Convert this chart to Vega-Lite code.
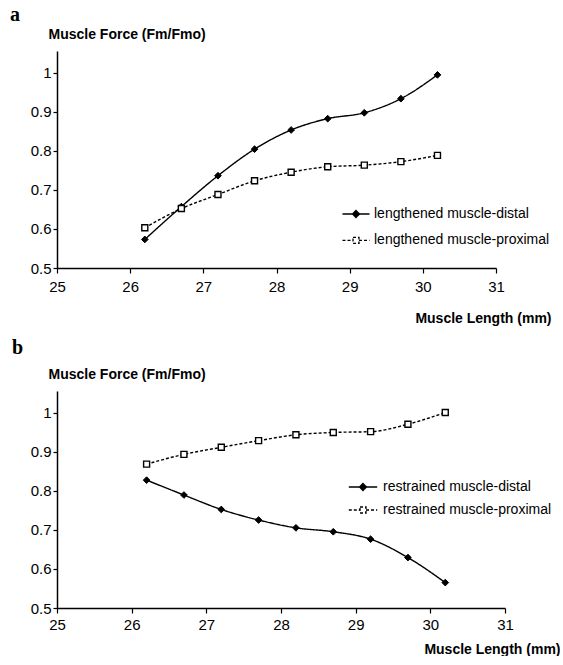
{
  "$schema": "https://vega.github.io/schema/vega-lite/v6.json",
  "background": "white",
  "padding": {"left": 10, "top": 5, "right": 0, "bottom": 0},
  "bounds": "flush",
  "spacing": 123,
  "resolve": {"scale": {"strokeDash": "independent"}, "legend": {"strokeDash": "independent"}},
  "config": {
    "font": "Liberation Sans",
    "view": {"stroke": null},
    "axis": {
      "grid": false,
      "domainColor": "#000",
      "domainWidth": 1.5,
      "tickColor": "#000",
      "tickWidth": 1.2,
      "tickSize": 5,
      "labelFont": "Liberation Sans",
      "labelFontSize": 15,
      "labelColor": "#000",
      "labelFlush": false,
      "titleFont": "Liberation Sans",
      "titleFontSize": 14,
      "titleFontWeight": "bold",
      "titleColor": "#000"
    },
    "legend": {
      "labelFont": "Liberation Sans",
      "labelFontSize": 14,
      "labelColor": "#000",
      "labelLimit": 400,
      "symbolSize": 400,
      "symbolStrokeWidth": 1.3,
      "symbolStrokeColor": "#000"
    }
  },
  "datasets": {
    "a": [
      {"length": 26.2, "force": 0.573, "series": "lengthened muscle-distal"},
      {"length": 26.7, "force": 0.657, "series": "lengthened muscle-distal"},
      {"length": 27.2, "force": 0.736, "series": "lengthened muscle-distal"},
      {"length": 27.7, "force": 0.804, "series": "lengthened muscle-distal"},
      {"length": 28.2, "force": 0.853, "series": "lengthened muscle-distal"},
      {"length": 28.7, "force": 0.882, "series": "lengthened muscle-distal"},
      {"length": 29.2, "force": 0.897, "series": "lengthened muscle-distal"},
      {"length": 29.7, "force": 0.933, "series": "lengthened muscle-distal"},
      {"length": 30.2, "force": 0.994, "series": "lengthened muscle-distal"},
      {"length": 26.2, "force": 0.603, "series": "lengthened muscle-proximal"},
      {"length": 26.7, "force": 0.652, "series": "lengthened muscle-proximal"},
      {"length": 27.2, "force": 0.688, "series": "lengthened muscle-proximal"},
      {"length": 27.7, "force": 0.723, "series": "lengthened muscle-proximal"},
      {"length": 28.2, "force": 0.745, "series": "lengthened muscle-proximal"},
      {"length": 28.7, "force": 0.759, "series": "lengthened muscle-proximal"},
      {"length": 29.2, "force": 0.763, "series": "lengthened muscle-proximal"},
      {"length": 29.7, "force": 0.772, "series": "lengthened muscle-proximal"},
      {"length": 30.2, "force": 0.788, "series": "lengthened muscle-proximal"}
    ],
    "b": [
      {"length": 26.2, "force": 0.827, "series": "restrained muscle-distal"},
      {"length": 26.7, "force": 0.789, "series": "restrained muscle-distal"},
      {"length": 27.2, "force": 0.752, "series": "restrained muscle-distal"},
      {"length": 27.7, "force": 0.725, "series": "restrained muscle-distal"},
      {"length": 28.2, "force": 0.705, "series": "restrained muscle-distal"},
      {"length": 28.7, "force": 0.695, "series": "restrained muscle-distal"},
      {"length": 29.2, "force": 0.676, "series": "restrained muscle-distal"},
      {"length": 29.7, "force": 0.629, "series": "restrained muscle-distal"},
      {"length": 30.2, "force": 0.565, "series": "restrained muscle-distal"},
      {"length": 26.2, "force": 0.868, "series": "restrained muscle-proximal"},
      {"length": 26.7, "force": 0.893, "series": "restrained muscle-proximal"},
      {"length": 27.2, "force": 0.911, "series": "restrained muscle-proximal"},
      {"length": 27.7, "force": 0.928, "series": "restrained muscle-proximal"},
      {"length": 28.2, "force": 0.943, "series": "restrained muscle-proximal"},
      {"length": 28.7, "force": 0.949, "series": "restrained muscle-proximal"},
      {"length": 29.2, "force": 0.951, "series": "restrained muscle-proximal"},
      {"length": 29.7, "force": 0.970, "series": "restrained muscle-proximal"},
      {"length": 30.2, "force": 1.0, "series": "restrained muscle-proximal"}
    ]
  },
  "vconcat": [
    {
      "title": {"text": "a", "anchor": "start", "frame": "group", "dx": -47, "font": "Liberation Serif", "fontSize": 20, "fontWeight": "bold", "color": "#000", "offset": -14, "baseline": "alphabetic"},
      "width": 439,
      "height": 217,
      "data": {"name": "a"},
      "encoding": {
        "x": {"field": "length", "type": "quantitative", "scale": {"domain": [25, 31], "nice": false, "zero": false},
              "axis": {"values": [25, 26, 27, 28, 29, 30, 31], "title": "Muscle Length (mm)", "titleX": 494, "titleY": 54, "titleAlign": "right", "titleBaseline": "alphabetic", "labelPadding": 6}},
        "y": {"field": "force", "type": "quantitative", "scale": {"domain": [0.5, 1.055], "nice": false, "zero": false},
              "axis": {"values": [0.5, 0.6, 0.7, 0.8, 0.9, 1], "format": "~g", "tickSize": 4, "labelPadding": 2, "title": "Muscle Force (Fm/Fmo)", "titleAngle": 0, "titleX": -9, "titleY": -13, "titleAlign": "left", "titleBaseline": "alphabetic"}}
      },
      "layer": [
        {
          "mark": {"type": "line", "interpolate": "monotone", "color": "#000", "strokeWidth": 1.4},
          "encoding": {
            "strokeDash": {"field": "series", "type": "nominal",
              "scale": {"domain": ["lengthened muscle-distal", "lengthened muscle-proximal"], "range": [[1, 0], [3, 2]]},
              "legend": {"orient": "none", "legendX": 288, "legendY": 152, "title": null, "rowPadding": 8.4, "labelOffset": 7,
                "encode": {"symbols": {"update": {
                  "shape": {"signal": "datum.value === 'lengthened muscle-distal' ? 'M-1.35,0H1.35M0,-0.35L0.35,0L0,0.35L-0.35,0Z' : 'M-1.35,0H-0.3M0.3,0H1.35M-0.3,-0.3H0.3V0.3H-0.3Z'"},
                  "fill": {"signal": "datum.value === 'lengthened muscle-distal' ? 'black' : 'white'"},
                  "stroke": {"value": "black"},
                  "strokeWidth": {"value": 1.3},
                  "opacity": {"value": 1}
                }}}}
            }
          }
        },
        {
          "transform": [{"filter": "datum.series === 'lengthened muscle-distal'"}],
          "mark": {"type": "point", "shape": "diamond", "filled": true, "fill": "#000", "opacity": 1, "stroke": "#000", "strokeWidth": 1, "size": 45},
          "encoding": {}
        },
        {
          "transform": [{"filter": "datum.series === 'lengthened muscle-proximal'"}],
          "mark": {"type": "point", "shape": "square", "filled": true, "fill": "#fff", "opacity": 1, "stroke": "#000", "strokeWidth": 1.4, "size": 36},
          "encoding": {}
        }
      ]
    },
    {
      "title": {"text": "b", "anchor": "start", "frame": "group", "dx": -45, "font": "Liberation Serif", "fontSize": 20, "fontWeight": "bold", "color": "#000", "offset": -7, "baseline": "alphabetic"},
      "width": 448,
      "height": 217,
      "data": {"name": "b"},
      "encoding": {
        "x": {"field": "length", "type": "quantitative", "scale": {"domain": [25, 31], "nice": false, "zero": false},
              "axis": {"values": [25, 26, 27, 28, 29, 30, 31], "title": "Muscle Length (mm)", "titleX": 503, "titleY": 45, "titleAlign": "right", "titleBaseline": "alphabetic", "labelPadding": 4}},
        "y": {"field": "force", "type": "quantitative", "scale": {"domain": [0.5, 1.055], "nice": false, "zero": false},
              "axis": {"values": [0.5, 0.6, 0.7, 0.8, 0.9, 1], "format": "~g", "tickSize": 4, "labelPadding": 2, "title": "Muscle Force (Fm/Fmo)", "titleAngle": 0, "titleX": -9, "titleY": -13, "titleAlign": "left", "titleBaseline": "alphabetic"}}
      },
      "layer": [
        {
          "mark": {"type": "line", "interpolate": "monotone", "color": "#000", "strokeWidth": 1.4},
          "encoding": {
            "strokeDash": {"field": "series", "type": "nominal",
              "scale": {"domain": ["restrained muscle-distal", "restrained muscle-proximal"], "range": [[1, 0], [3, 2]]},
              "legend": {"orient": "none", "legendX": 295, "legendY": 85, "title": null, "rowPadding": 5, "labelOffset": 9,
                "encode": {"symbols": {"update": {
                  "shape": {"signal": "datum.value === 'restrained muscle-distal' ? 'M-1.42,0H1.42M0,-0.35L0.35,0L0,0.35L-0.35,0Z' : 'M-1.42,0H-0.3M0.3,0H1.42M-0.3,-0.3H0.3V0.3H-0.3Z'"},
                  "fill": {"signal": "datum.value === 'restrained muscle-distal' ? 'black' : 'white'"},
                  "stroke": {"value": "black"},
                  "strokeWidth": {"value": 1.3},
                  "opacity": {"value": 1}
                }}}}
            }
          }
        },
        {
          "transform": [{"filter": "datum.series === 'restrained muscle-distal'"}],
          "mark": {"type": "point", "shape": "diamond", "filled": true, "fill": "#000", "opacity": 1, "stroke": "#000", "strokeWidth": 1, "size": 45},
          "encoding": {}
        },
        {
          "transform": [{"filter": "datum.series === 'restrained muscle-proximal'"}],
          "mark": {"type": "point", "shape": "square", "filled": true, "fill": "#fff", "opacity": 1, "stroke": "#000", "strokeWidth": 1.4, "size": 36},
          "encoding": {}
        }
      ]
    }
  ]
}
